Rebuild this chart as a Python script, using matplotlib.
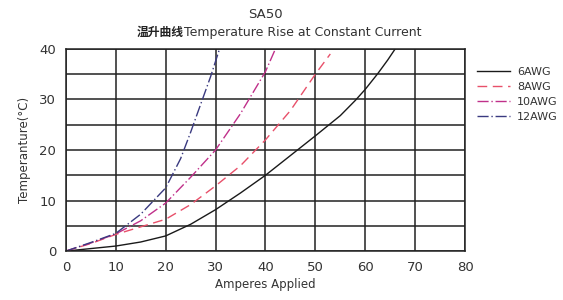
import matplotlib
matplotlib.use("Agg")
import matplotlib.pyplot as plt

# Data
x_6awg = [0, 5, 10, 15, 20, 25, 30, 35, 40, 45, 50, 55, 58, 60, 62.5, 64.5, 66]
y_6awg = [0, 0.5, 1.0, 1.8, 3.0, 5.3, 8.2, 11.5, 15.0, 18.9, 22.8, 26.8, 29.8, 32.0, 35.1, 37.8, 40.0]

x_8awg = [0, 5, 10, 15, 20, 25, 30, 35, 40, 45, 50, 53]
y_8awg = [0, 1.5, 3.3, 4.8, 6.3, 9.2, 12.9, 16.9, 22.0, 27.8, 35.0, 39.0]

x_10awg = [0, 5, 10, 15, 20, 25, 30, 35, 40, 42]
y_10awg = [0, 1.6, 3.4, 6.0, 9.5, 14.6, 20.0, 27.2, 35.5, 40.0]

x_12awg = [0, 5, 10, 15, 20, 23, 25, 27, 29, 30.8]
y_12awg = [0, 1.7, 3.5, 7.3, 12.5, 18.3, 23.5, 29.0, 34.5, 40.0]

labels = ["6AWG", "8AWG", "10AWG", "12AWG"]

fig = plt.figure(figsize=(5.63, 3.0), dpi=100)
ax = fig.add_axes([0.117, 0.163, 0.709, 0.674])

ax.plot(x_6awg, y_6awg, color="#1a1a1a", lw=1.0, label=labels[0])
ax.plot(x_8awg, y_8awg, color="#e8506a", lw=1.0, dashes=(7, 4), label=labels[1])
ax.plot(x_10awg, y_10awg, color="#c0308a", lw=1.0, dashes=(8, 2, 1, 2), label=labels[2])
ax.plot(x_12awg, y_12awg, color="#3a3a80", lw=1.0, dashes=(8, 2, 1, 2), label=labels[3])

ax.set_xlim(0, 80)
ax.set_ylim(0, 40)
ax.set_xticks(range(0, 81, 10))
ax.set_yticks(range(0, 41, 10))
ax.set_yticks(range(0, 41, 5), minor=True)
ax.grid(True, which="both", color="#222222", lw=1.1)
ax.set_axisbelow(True)
ax.tick_params(which="both", length=0, labelsize=9.5, labelcolor="#333333", pad=7)
for s in ax.spines.values():
    s.set_color("#222222")
    s.set_linewidth(1.1)

ax.set_xlabel("Amperes Applied", fontsize=8.5, color="#333333", labelpad=3)
ax.set_ylabel("Temperanture(°C)", fontsize=8.5, color="#333333", labelpad=6)

fig.text(0.471, 0.95, "SA50", ha="center", va="center", fontsize=9.5, color="#333333")
t1 = fig.text(0.327, 0.893, "Temperature Rise at Constant Current", ha="left", va="center",
              fontsize=9, color="#333333")
ax.annotate("温升曲线", xy=(0, 0.5), xycoords=t1, ha="right", va="center",
            fontsize=8.5, fontweight="bold", color="#222222",
            family=["Noto Sans CJK SC", "DejaVu Sans"], annotation_clip=False)

ax.legend(loc="upper left", bbox_to_anchor=(1.01, 0.95), frameon=False, fontsize=8,
          handlelength=3.0, labelspacing=0.45, handletextpad=0.6, borderpad=0.2,
          labelcolor="#333333")

fig.savefig("out.png", dpi=100)
